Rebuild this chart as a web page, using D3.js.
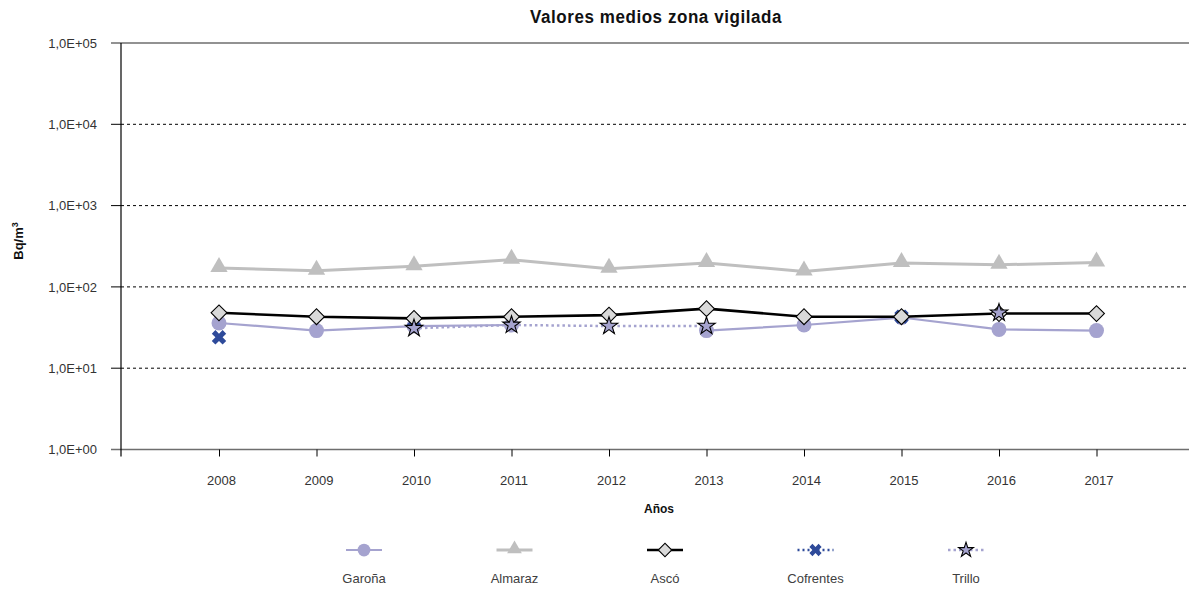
<!DOCTYPE html>
<html>
<head>
<meta charset="utf-8">
<script src="https://cdn.jsdelivr.net/npm/d3@7"></script>
<style>
  html, body { margin: 0; padding: 0; background: #fff; }
  svg { display: block; }
</style>
</head>
<body>
<svg id="chart" width="1189" height="591"></svg>
<script>
const years = ["2008","2009","2010","2011","2012","2013","2014","2015","2016","2017"];
const garona    = [36, 29, 33, 34, null, 29, 34, 42, 30, 29];
const almaraz   = [171, 158, 179, 216, 167, 197, 155, 197, 187, 200];
const asco      = [48, 43, 41, 43, 45, 54, 43, 43, 47, 47];
const cofrentes = [24, null, 38, null, null, null, null, 43, null, null];
const trillo    = [null, null, 31, 34, 33, 33, null, null, 48, null];
const yTicks = [1, 10, 100, 1000, 10000, 100000];
const yTickLabels = ["1,0E+00","1,0E+01","1,0E+02","1,0E+03","1,0E+04","1,0E+05"];
const seriesNames = ["Garoña","Almaraz","Ascó","Cofrentes","Trillo"];

(function () {
const svg = d3.select("#chart");
const W = 1189;
const plotLeft = 121, plotTop = 43, plotBottom = 449.5;
const x = d3.scalePoint().domain(years).range([219, 1096.5]);
const y = d3.scaleLog().domain([1, 100000]).range([plotBottom, plotTop]);

const labelFont = "'Liberation Sans', Arial, sans-serif";

// Title
svg.append("text").attr("transform", "translate(656,23) scale(0.92,1)").attr("text-anchor", "middle")
  .style("font-family", labelFont).style("font-weight", "bold").style("font-size", "18.5px")
  .style("letter-spacing", "0.6px").attr("fill", "#111")
  .text("Valores medios zona vigilada");

// Gridlines
const grid = svg.append("g");
yTicks.forEach(t => {
  if (t === 1 || t === 100000) {
    grid.append("line").attr("x1", 111).attr("x2", W).attr("y1", y(t)).attr("y2", y(t))
      .attr("stroke", "#6e6e6e").attr("stroke-width", 1.6);
  } else {
    grid.append("line").attr("x1", plotLeft).attr("x2", W).attr("y1", y(t)).attr("y2", y(t))
      .attr("stroke", "#000").attr("stroke-width", 1).attr("stroke-dasharray", "3,3");
    grid.append("line").attr("x1", 111).attr("x2", plotLeft).attr("y1", y(t)).attr("y2", y(t))
      .attr("stroke", "#000").attr("stroke-width", 1);
  }
});

// Y axis via d3
const yAxis = d3.axisLeft(y).tickValues(yTicks).tickFormat((d, i) => yTickLabels[i]).tickSize(0).tickPadding(24);
const yg = svg.append("g").attr("transform", `translate(${plotLeft},0)`).call(yAxis);
yg.select(".domain").remove();
yg.selectAll("text").style("font-family", labelFont).style("font-size", "13px").attr("fill", "#333");
svg.append("line").attr("x1", plotLeft).attr("x2", plotLeft).attr("y1", plotTop).attr("y2", plotBottom + 7)
  .attr("stroke", "#000").attr("stroke-width", 1.2);

// X axis via d3
const xAxis = d3.axisBottom(x).tickSize(7).tickPadding(19);
const xg = svg.append("g").attr("transform", `translate(0,${plotBottom})`).call(xAxis);
xg.select(".domain").remove();
xg.selectAll(".tick line").attr("stroke", "#000");
xg.selectAll("text").attr("dx", 2).style("font-family", labelFont).style("font-size", "13px").attr("fill", "#333");

// Axis titles
svg.append("text").attr("x", 659).attr("y", 513).attr("text-anchor", "middle")
  .style("font-family", labelFont).style("font-weight", "bold").style("font-size", "12px")
  .attr("fill", "#111").text("Años");
const yt = svg.append("text").attr("transform", "translate(23,241) rotate(-90)").attr("text-anchor", "middle")
  .style("font-family", labelFont).style("font-weight", "bold").style("font-size", "13px").attr("fill", "#111");
yt.append("tspan").text("Bq/m");
yt.append("tspan").attr("dy", -5).style("font-size", "9px").text("3");

// Series definitions
const series = [
  {name: "Garoña", data: garona, stroke: "#a5a3cf", width: 2.2, dash: null,
   marker: {kind: "circle", r: 7.5, fill: "#a5a3cf", stroke: "none"}},
  {name: "Almaraz", data: almaraz, stroke: "#bfbfbf", width: 3, dash: null,
   marker: {kind: "path", type: d3.symbolTriangle, size: 130, rot: 0, fill: "#bfbfbf", stroke: "none", dy: -1}},
  {name: "Cofrentes", data: cofrentes, stroke: "#2e4a9a", width: 2.5, dash: "2,3",
   marker: {kind: "path", type: d3.symbolCross, size: 130, rot: 45, fill: "#2e4a9a", stroke: "none", dy: 0}},
  {name: "Ascó", data: asco, stroke: "#000", width: 2.6, dash: null,
   marker: {kind: "path", type: d3.symbolSquare, size: 125, rot: 45, fill: "#d9d9d9", stroke: "#000", dy: 0}},
  {name: "Trillo", data: trillo, stroke: "#a5a3cf", width: 2.5, dash: "2.5,3",
   marker: {kind: "path", type: d3.symbolStar, size: 95, rot: 0, fill: "#a5a3cf", stroke: "#000", dy: 0}}
];

function drawMarker(g, m, cx, cy, scale) {
  scale = scale || 1;
  if (m.kind === "circle") {
    g.append("circle").attr("cx", cx).attr("cy", cy).attr("r", m.r * scale)
      .attr("fill", m.fill).attr("stroke", m.stroke);
  } else {
    g.append("path").attr("d", d3.symbol(m.type, m.size * scale * scale)())
      .attr("transform", `translate(${cx},${cy + (m.dy || 0)}) rotate(${m.rot})`)
      .attr("fill", m.fill).attr("stroke", m.stroke).attr("stroke-width", 1.1)
      .attr("stroke-linejoin", "miter");
  }
}

const plot = svg.append("g");
series.forEach(s => {
  const pts = years.map((yr, i) => ({yr, v: s.data[i]}));
  const line = d3.line().defined(d => d.v != null).x(d => x(d.yr)).y(d => y(d.v));
  plot.append("path").datum(pts).attr("d", line).attr("fill", "none")
    .attr("stroke", s.stroke).attr("stroke-width", s.width)
    .attr("stroke-dasharray", s.dash).attr("stroke-linejoin", "round");
  const mg = plot.append("g");
  pts.filter(d => d.v != null).forEach(d => drawMarker(mg, s.marker, x(d.yr), y(d.v)));
});

// Legend
const lx = d3.scalePoint().domain(seriesNames).range([364, 966]);
const lg = svg.append("g");
seriesNames.forEach(name => {
  const s = series.find(d => d.name === name);
  const cx = lx(name);
  lg.append("line").attr("x1", cx - 18).attr("x2", cx + 18).attr("y1", 550).attr("y2", 550)
    .attr("stroke", s.stroke).attr("stroke-width", s.width).attr("stroke-dasharray", s.dash);
  drawMarker(lg, s.marker, cx, 550, 0.85);
  lg.append("text").attr("x", cx).attr("y", 583).attr("text-anchor", "middle")
    .style("font-family", labelFont).style("font-size", "13px").attr("fill", "#404040").text(name);
});
})();
</script>
</body>
</html>
